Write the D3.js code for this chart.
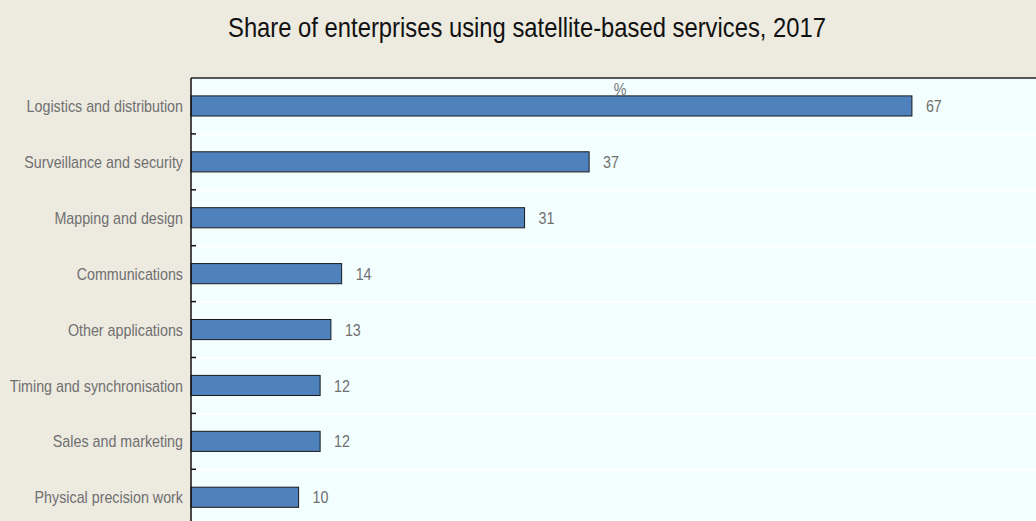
<!DOCTYPE html>
<html>
<head>
<meta charset="utf-8">
<script src="https://cdn.jsdelivr.net/npm/d3@7"></script>
<style>
  html, body { margin: 0; padding: 0; background: #edeae0; overflow: hidden; }
  text { font-family: "Liberation Sans", Arial, sans-serif; }
</style>
</head>
<body>
<div id="chart"></div>
<script>
// data
const categories = [
  "Logistics and distribution",
  "Surveillance and security",
  "Mapping and design",
  "Communications",
  "Other applications",
  "Timing and synchronisation",
  "Sales and marketing",
  "Physical precision work"
];
const values = [67, 37, 31, 14, 13, 12, 12, 10];

const width = 1036, height = 521;
const margin = { top: 78, left: 191 };
const plotRight = 1036;
const bandH = 55.9;
const plotBottom = margin.top + bandH * categories.length;

// squeeze text horizontally, the source uses a narrow font
function narrow(sel, k) {
  sel.each(function () {
    const w = this.getComputedTextLength();
    d3.select(this).attr("textLength", w * k).attr("lengthAdjust", "spacingAndGlyphs");
  });
}

const svg = d3.select("#chart").append("svg")
  .attr("width", width)
  .attr("height", height);

svg.append("rect").attr("width", width).attr("height", height).attr("fill", "#edeae0");

// plot background
svg.append("rect")
  .attr("x", margin.left).attr("y", margin.top)
  .attr("width", plotRight - margin.left)
  .attr("height", plotBottom - margin.top)
  .attr("fill", "#f3fefe");

const x = d3.scaleLinear().domain([0, 1]).range([margin.left, margin.left + 10.76]);
const y = d3.scaleBand().domain(categories).range([margin.top, plotBottom]).paddingInner(0.64).paddingOuter(0.32);

// faint gridlines between categories
svg.append("g").selectAll("line")
  .data(categories.slice(1))
  .enter().append("line")
  .attr("x1", margin.left).attr("x2", plotRight)
  .attr("y1", d => y(d) - y.step() * 0.32 + 0.5)
  .attr("y2", d => y(d) - y.step() * 0.32 + 0.5)
  .attr("stroke", "#ffffff").attr("stroke-width", 2);

// top border
svg.append("line")
  .attr("x1", margin.left).attr("x2", plotRight)
  .attr("y1", margin.top).attr("y2", margin.top)
  .attr("stroke", "#222").attr("stroke-width", 1.5);

// bars
svg.append("g").selectAll("rect")
  .data(values)
  .enter().append("rect")
  .attr("x", x(0))
  .attr("y", (d, i) => y(categories[i]))
  .attr("width", d => x(d) - x(0))
  .attr("height", y.bandwidth())
  .attr("fill", "#4f81bd")
  .attr("stroke", "#1a1a1a")
  .attr("stroke-width", 1);

// value labels
svg.append("g").selectAll("text")
  .data(values)
  .enter().append("text")
  .attr("x", d => x(d) + 14)
  .attr("y", (d, i) => y(categories[i]) + y.bandwidth() / 2)
  .attr("dy", "0.36em")
  .attr("font-size", 17)
  .attr("fill", "#707070")
  .text(d => d)
  .call(narrow, 0.84);

// y axis with ticks between categories
const yAxis = svg.append("g").attr("transform", `translate(${margin.left},0)`);
yAxis.append("line")
  .attr("x1", 0).attr("x2", 0)
  .attr("y1", margin.top).attr("y2", plotBottom)
  .attr("stroke", "#111").attr("stroke-width", 1.5);
yAxis.selectAll(".tick")
  .data(categories.slice(1))
  .enter().append("line")
  .attr("x1", 0).attr("x2", 5)
  .attr("y1", d => y(d) - y.step() * 0.32)
  .attr("y2", d => y(d) - y.step() * 0.32)
  .attr("stroke", "#111").attr("stroke-width", 1.5);
yAxis.selectAll("text")
  .data(categories)
  .enter().append("text")
  .attr("x", -8)
  .attr("y", d => y(d) + y.bandwidth() / 2)
  .attr("dy", "0.36em")
  .attr("text-anchor", "end")
  .attr("font-size", 17)
  .attr("fill", "#707070")
  .text(d => d)
  .call(narrow, 0.84);

// unit label
svg.append("text")
  .attr("x", 620).attr("y", 95)
  .attr("text-anchor", "middle")
  .attr("font-size", 17)
  .attr("fill", "#777")
  .text("%")
  .call(narrow, 0.84);

// title
svg.append("text")
  .attr("x", 527).attr("y", 37)
  .attr("text-anchor", "middle")
  .attr("font-size", 28)
  .attr("fill", "#111")
  .attr("textLength", 598)
  .attr("lengthAdjust", "spacingAndGlyphs")
  .text("Share of enterprises using satellite-based services, 2017");
</script>
</body>
</html>
